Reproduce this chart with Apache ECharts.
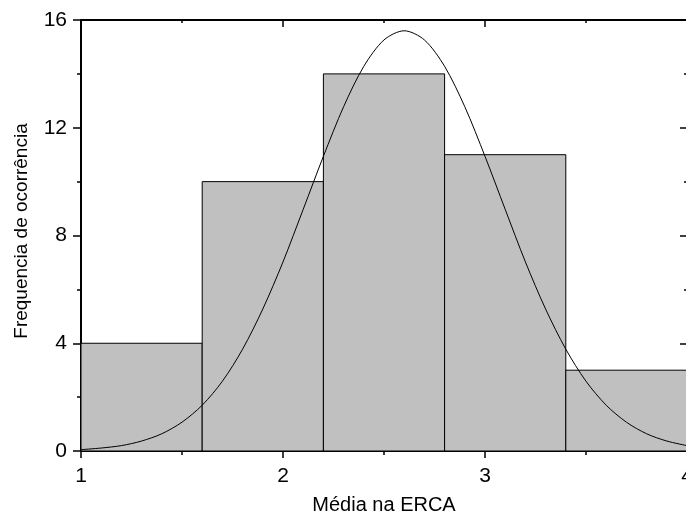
<!DOCTYPE html>
<html>
<head>
<meta charset="utf-8">
<script src="https://cdn.jsdelivr.net/npm/echarts@6/dist/echarts.min.js"></script>
<style>
  html, body { margin: 0; padding: 0; background: #fff; }
  #chart { width: 686px; height: 513px; }
</style>
</head>
<body>
<div id="chart"></div>
<script>
// histogram bins (Média na ERCA) and their counts
const binStart = [1.0, 1.6, 2.2, 2.8, 3.4];
const binEnd = [1.6, 2.2, 2.8, 3.4, 4.0];
const counts = [4, 10, 14, 11, 3];

// fitted curve
const curveX = [1.0, 1.1, 1.2, 1.3, 1.4, 1.5, 1.6, 1.7, 1.8, 1.9, 2.0, 2.1, 2.2, 2.3, 2.4, 2.5,
  2.6, 2.7, 2.8, 2.9, 3.0, 3.1, 3.2, 3.3, 3.4, 3.5, 3.6, 3.7, 3.8, 3.9, 4.0];
const curveY = [0.05, 0.11, 0.2, 0.37, 0.64, 1.07, 1.7, 2.59, 3.78, 5.27, 7.02, 8.97, 10.94, 12.78, 14.28, 15.26,
  15.6, 15.26, 14.28, 12.78, 10.94, 8.97, 7.02, 5.27, 3.78, 2.59, 1.7, 1.07, 0.64, 0.37, 0.2];

const font = '"Liberation Sans", Arial, sans-serif';

const chart = echarts.init(document.getElementById('chart'));

const option = {
  animation: false,
  backgroundColor: '#fff',
  // plot runs off the right edge in the original, so no bounds clamping
  grid: { left: 81, right: -1, top: 20, bottom: 62, outerBoundsMode: 'none', containLabel: false },
  xAxis: [
    {
      type: 'value', position: 'bottom',
      min: 1, max: 4, interval: 1,
      name: 'Média na ERCA', nameLocation: 'middle', nameGap: 44,
      nameTextStyle: { fontFamily: font, fontSize: 20, color: '#000' },
      axisLine: { show: true, onZero: false, lineStyle: { color: '#000', width: 2 } },
      axisTick: { show: true, inside: false, length: 7, lineStyle: { color: '#000', width: 1.5 } },
      minorTick: { show: true, splitNumber: 2, length: 4, lineStyle: { color: '#000', width: 1.5 } },
      axisLabel: { fontFamily: font, fontSize: 21, color: '#000', margin: 15 },
      splitLine: { show: false }
    },
    {
      type: 'value', position: 'top',
      min: 1, max: 4, interval: 1,
      axisLine: { show: true, onZero: false, lineStyle: { color: '#000', width: 2 } },
      axisTick: { show: true, inside: true, length: 7, lineStyle: { color: '#000', width: 1.5 } },
      minorTick: { show: true, splitNumber: 2, length: 3, lineStyle: { color: '#000', width: 1.5 } },
      axisLabel: { show: false },
      splitLine: { show: false }
    }
  ],
  yAxis: [
    {
      type: 'value', position: 'left',
      min: 0, max: 16, interval: 4,
      axisLine: { show: true, onZero: false, lineStyle: { color: '#000', width: 2 } },
      axisTick: { show: true, inside: false, length: 8, lineStyle: { color: '#000', width: 1.5 } },
      minorTick: { show: true, splitNumber: 2, length: 4, lineStyle: { color: '#000', width: 1.5 } },
      axisLabel: { fontFamily: font, fontSize: 21, color: '#000', margin: 14 },
      splitLine: { show: false }
    },
    {
      type: 'value', position: 'right',
      min: 0, max: 16, interval: 4,
      axisLine: { show: false, onZero: false },
      axisTick: { show: true, inside: true, length: 7, lineStyle: { color: '#000', width: 1.5 } },
      minorTick: { show: true, splitNumber: 2, length: 3, lineStyle: { color: '#000', width: 1.5 } },
      axisLabel: { show: false },
      splitLine: { show: false }
    }
  ],
  graphic: [
    {
      type: 'text',
      x: 22, y: 231,
      rotation: Math.PI / 2,
      style: {
        text: 'Frequencia de ocorrência',
        fontFamily: font, fontSize: 19, fill: '#000',
        textAlign: 'center', textVerticalAlign: 'middle'
      }
    }
  ],
  series: [
    {
      type: 'custom',
      xAxisIndex: 0, yAxisIndex: 0,
      data: counts.map((c, i) => [binStart[i], binEnd[i], c]),
      renderItem: function (params, api) {
        const p0 = api.coord([api.value(0), api.value(2)]);
        const p1 = api.coord([api.value(1), 0]);
        return {
          type: 'rect',
          shape: { x: p0[0], y: p0[1], width: p1[0] - p0[0], height: p1[1] - p0[1] },
          style: { fill: '#c0c0c0', stroke: '#000', lineWidth: 1 }
        };
      },
      z: 1
    },
    {
      type: 'line',
      xAxisIndex: 0, yAxisIndex: 0,
      data: curveX.map((x, i) => [x, curveY[i]]),
      smooth: 0.3,
      showSymbol: false,
      lineStyle: { color: '#000', width: 1 },
      z: 3
    }
  ]
};

chart.setOption(option);
</script>
</body>
</html>
